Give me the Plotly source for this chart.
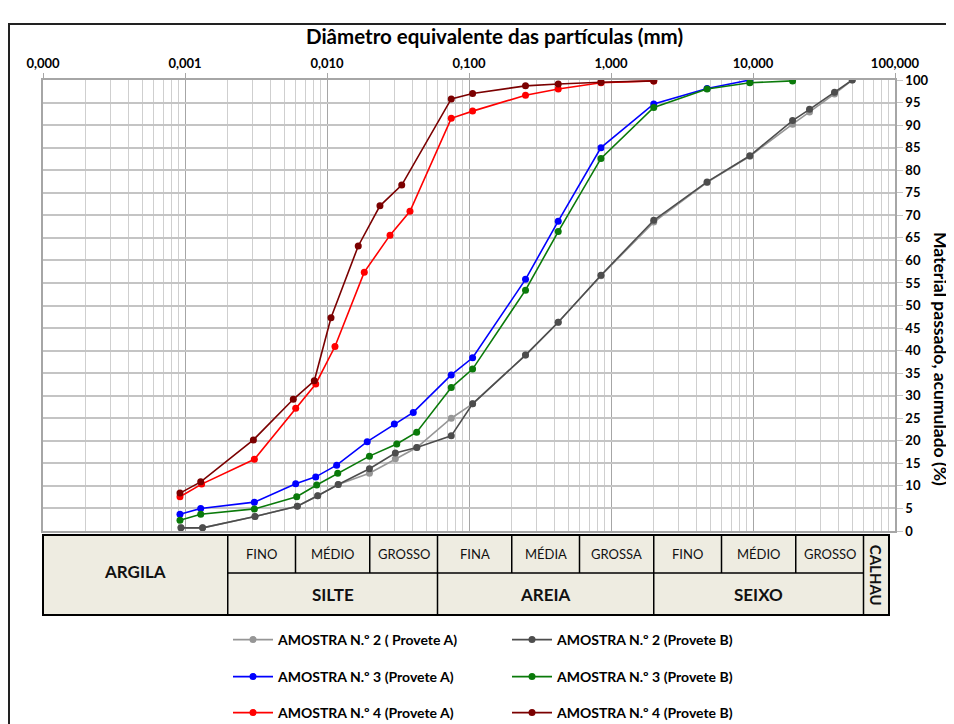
import math
import plotly.graph_objects as go

# ---------------- data ----------------
sieves = [0.075, 0.106, 0.25, 0.425, 0.85, 2.0, 4.75, 9.5, 19.0, 25.0, 37.5, 50.0]

a2A_d = [0.000937, 0.00133, 0.00311, 0.00618, 0.0086, 0.0120, 0.0199, 0.0303, 0.0429] + sieves
a2A_p = [0.7, 0.7, 3.2, 5.5, 7.8, 10.3, 12.8, 16.0, 18.5,
         25.0, 28.2, 39.0, 46.3, 56.6, 68.5, 77.3, 83.1, 90.2, 92.9, 96.9, 100.0]

a2B_d = [0.000937, 0.00133, 0.00311, 0.00618, 0.0086, 0.0120, 0.0199, 0.0303, 0.0429] + sieves
a2B_p = [0.7, 0.7, 3.2, 5.5, 7.8, 10.3, 13.8, 17.3, 18.5,
         21.1, 28.2, 39.0, 46.3, 56.7, 68.9, 77.4, 83.2, 91.0, 93.5, 97.3, 100.0]

a3A_d = [0.000922, 0.00129, 0.00308, 0.00602, 0.00833, 0.0117, 0.0192, 0.0298, 0.0405] + sieves[:8]
a3A_p = [3.7, 5.0, 6.4, 10.5, 12.0, 14.6, 19.8, 23.7, 26.3,
         34.6, 38.4, 55.8, 68.7, 85.0, 94.7, 98.1, 100.0]

a3B_d = [0.000922, 0.00129, 0.00308, 0.00612, 0.00846, 0.0119, 0.0199, 0.0310, 0.0428] + sieves[:9]
a3B_p = [2.4, 3.7, 4.9, 7.6, 10.2, 12.8, 16.6, 19.3, 21.9,
         31.8, 35.9, 53.4, 66.4, 82.6, 93.9, 98.0, 99.4, 99.8]

a4A_d = [0.000922, 0.00131, 0.00308, 0.00602, 0.00833, 0.01138, 0.0183, 0.0278, 0.0384] + sieves[:6]
a4A_p = [7.6, 10.4, 15.9, 27.2, 32.6, 40.9, 57.4, 65.6, 70.9,
         91.5, 93.1, 96.6, 98.0, 99.4, 99.8]

a4B_d = [0.000922, 0.00129, 0.00303, 0.00579, 0.00814, 0.01067, 0.0166, 0.0236, 0.0336] + sieves[:6]
a4B_p = [8.4, 10.9, 20.2, 29.2, 33.3, 47.3, 63.2, 72.1, 76.7,
         95.8, 97.0, 98.7, 99.1, 99.5, 99.8]

series_names = ["AMOSTRA N.º 2 ( Provete A)", "AMOSTRA N.º 2 (Provete B)",
                "AMOSTRA N.º 3 (Provete A)", "AMOSTRA N.º 3 (Provete B)",
                "AMOSTRA N.º 4 (Provete A)", "AMOSTRA N.º 4 (Provete B)"]
series_colors = ["#969696", "#4d4d4d", "#0000ff", "#0a7a0a", "#ff0000", "#7b0000"]
series_legend = ["legend", "legend", "legend2", "legend2", "legend3", "legend3"]

x_tickvals = [0.0001, 0.001, 0.01, 0.1, 1, 10, 100]
x_ticktext = ["0,000", "0,001", "0,010", "0,100", "1,000", "10,000", "100,000"]

# classification table (limits in mm)
sub_limits = [0.002, 0.006, 0.02, 0.06, 0.2, 0.6, 2, 6, 20, 60]
sub_labels = ["FINO", "MÉDIO", "GROSSO", "FINA", "MÉDIA", "GROSSA", "FINO", "MÉDIO", "GROSSO"]
main_limits = [0.002, 0.06, 2, 60]
main_labels = ["SILTE", "AREIA", "SEIXO"]

# ---------------- layout geometry ----------------
OFF = 8  # page body margin
W, H = 954 - OFF, 724 - OFF
L, R, T, B = 43 - OFF, 895 - OFF, 80 - OFF, 531 - OFF
XMIN, XMAX = -4, 2
FONT = "Lato"


def px_x(px):  # screen px -> paper
    return (px - OFF - L) / (R - L)


def px_y(py):
    return (B - (py - OFF)) / (B - T)


def lx(v):
    return (math.log10(v) - XMIN) / (XMAX - XMIN)


fig = go.Figure()
all_d = [a2A_d, a2B_d, a3A_d, a3B_d, a4A_d, a4B_d]
all_p = [a2A_p, a2B_p, a3A_p, a3B_p, a4A_p, a4B_p]
for d, p, n, c, lg in zip(all_d, all_p, series_names, series_colors, series_legend):
    fig.add_trace(go.Scatter(x=d, y=p, name=n, mode="lines+markers",
                             line=dict(color=c, width=1.6),
                             marker=dict(color=c, size=7),
                             legend=lg))

minor_vals = [m * 10 ** e for e in range(XMIN, XMAX) for m in range(2, 10)]

shapes = []
annos = []

# outer frame
shapes.append(dict(type="rect", xref="paper", yref="paper",
                   x0=px_x(9), x1=px_x(990), y0=px_y(760), y1=px_y(24),
                   line=dict(color="#222222", width=2), fillcolor="rgba(0,0,0,0)", layer="below"))

# table
ty0, tym, ty1 = px_y(535), px_y(573), px_y(615)
tx_right = px_x(889)
fill = "#eeece1"
shapes.append(dict(type="rect", xref="paper", yref="paper", x0=0, x1=tx_right, y0=ty1, y1=ty0,
                   fillcolor=fill, line=dict(color="black", width=2), layer="above"))
shapes.append(dict(type="line", xref="paper", yref="paper", x0=lx(0.002), x1=lx(0.002), y0=ty1, y1=ty0,
                   line=dict(color="black", width=1.5)))
shapes.append(dict(type="line", xref="paper", yref="paper", x0=lx(60), x1=lx(60), y0=ty1, y1=ty0,
                   line=dict(color="black", width=1.5)))
shapes.append(dict(type="line", xref="paper", yref="paper", x0=lx(0.002), x1=lx(60), y0=tym, y1=tym,
                   line=dict(color="black", width=1.5)))
for v in sub_limits[1:-1]:
    y_low = ty1 if v in main_limits else tym
    shapes.append(dict(type="line", xref="paper", yref="paper", x0=lx(v), x1=lx(v), y0=y_low, y1=ty0,
                       line=dict(color="black", width=1.5)))
for i, lab in enumerate(sub_labels):
    xc = (lx(sub_limits[i]) + lx(sub_limits[i + 1])) / 2
    annos.append(dict(x=xc, y=(ty0 + tym) / 2, xref="paper", yref="paper", text=lab, showarrow=False,
                      xanchor="center", yanchor="middle",
                      font=dict(family=FONT, size=13, color="#111111")))
for i, lab in enumerate(main_labels):
    xc = (lx(main_limits[i]) + lx(main_limits[i + 1])) / 2
    annos.append(dict(x=xc, y=(tym + ty1) / 2, xref="paper", yref="paper", text=lab, showarrow=False,
                      xanchor="center", yanchor="middle",
                      font=dict(family=FONT, size=17, color="#111111", weight="bold")))
annos.append(dict(x=lx(0.002) / 2, y=px_y(571), xref="paper", yref="paper", text="ARGILA",
                  showarrow=False, xanchor="center", yanchor="middle",
                  font=dict(family=FONT, size=17, color="#111111", weight="bold")))
annos.append(dict(x=(lx(60) + tx_right) / 2, y=(ty0 + ty1) / 2, xref="paper", yref="paper", text="CALHAU",
                  showarrow=False, textangle=90, xanchor="center", yanchor="middle",
                  font=dict(family=FONT, size=15, color="#111111", weight="bold")))

# titles
annos.append(dict(x=px_x(494), y=px_y(36), xref="paper", yref="paper",
                  text="Diâmetro equivalente das partículas (mm)", showarrow=False,
                  xanchor="center", yanchor="middle",
                  font=dict(family=FONT, size=20.5, color="black", weight="bold")))
annos.append(dict(x=px_x(941), y=px_y(359), xref="paper", yref="paper",
                  text="Material passado, acumulado (%)", showarrow=False, textangle=90,
                  xanchor="center", yanchor="middle",
                  font=dict(family=FONT, size=17.5, color="black", weight="bold")))

legend_common = dict(orientation="h", xanchor="left", yanchor="middle", entrywidth=224,
                     font=dict(family=FONT, size=14, color="black", weight="bold"),
                     bgcolor="rgba(0,0,0,0)", itemwidth=40, tracegroupgap=0)

fig.update_layout(
    width=W, height=H,
    margin=dict(l=L, r=W - R, t=T, b=H - B, autoexpand=False),
    paper_bgcolor="white", plot_bgcolor="white",
    font=dict(family=FONT, color="black"),
    xaxis=dict(type="log", range=[XMIN, XMAX], side="top",
               tickmode="array", tickvals=x_tickvals, ticktext=x_ticktext,
               tickfont=dict(family=FONT, size=13, color="black", weight="bold"),
               showgrid=True, gridcolor="#a6a6a6", gridwidth=1,
               ticks="outside", ticklen=5, tickcolor="#a6a6a6",
               showline=True, linecolor="#a6a6a6", linewidth=1.5, mirror=True,
               zeroline=False,
               minor=dict(tickmode="array", tickvals=minor_vals, showgrid=True,
                          gridcolor="#cfcfcf", gridwidth=1, ticks="")),
    yaxis=dict(range=[0, 100], side="right", tickmode="linear", tick0=0, dtick=5,
               tickfont=dict(family=FONT, size=13, color="black", weight="bold"),
               showgrid=True, gridcolor="#c4c4c4", gridwidth=1.5,
               ticks="outside", ticklen=6, tickcolor="#c4c4c4",
               showline=True, linecolor="#a6a6a6", linewidth=1.5, mirror=True,
               zeroline=False),
    legend=dict(x=px_x(228), y=px_y(640), **legend_common),
    legend2=dict(x=px_x(228), y=px_y(677), **legend_common),
    legend3=dict(x=px_x(228), y=px_y(713), **legend_common),
    shapes=shapes,
    annotations=annos,
)

fig.write_html("out.html")
